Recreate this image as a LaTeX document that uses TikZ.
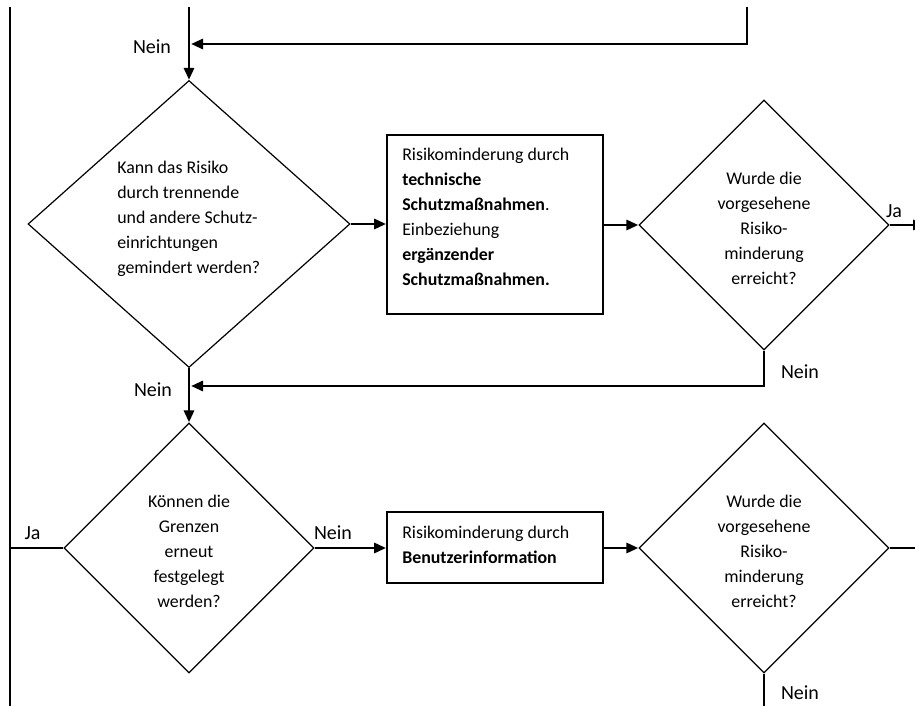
\documentclass[tikz,border=0pt]{standalone}
\usepackage{fontspec}
\setmainfont{Carlito}
\usetikzlibrary{shapes.geometric,arrows.meta}
\begin{document}
\begin{tikzpicture}[x=0.75pt,y=-0.75pt,
  dia/.style={diamond, draw, line width=0.9pt, inner sep=0pt, minimum width=187.5pt, minimum height=187.5pt},
  procbox/.style={rectangle, draw, line width=1.3pt, inner sep=0pt, minimum width=162pt},
  txt/.style={font=\fontsize{13.4}{18.75}\selectfont, inner sep=0pt},
  lbl/.style={font=\fontsize{15}{17}\selectfont, inner sep=0pt},
  conn/.style={line width=2.2pt, -{Triangle[length=9pt,width=7.5pt]}},
  thickline/.style={line width=2pt},
  thinline/.style={line width=1.2pt}]
\useasboundingbox (0,0) rectangle (915,706);

% coordinates
\coordinate (ltop) at (9.5,7);
\coordinate (lbot) at (9.5,710);
\coordinate (topin) at (189,7);
\coordinate (trtop) at (747,7);
\coordinate (j1) at (191,44);
\coordinate (j2) at (191,386);
\coordinate (l1) at (9.5,548);
\coordinate (rout1) at (925,225);
\coordinate (rout2) at (920,548);
\coordinate (bout) at (764,710);

% shapes
\node[dia, minimum width=241.5pt, minimum height=215.25pt] (d1) at (189,224) {};
\node[procbox, minimum height=134.25pt] (b1) at (495,224.5) {};
\node[dia] (d2) at (764,225) {};
\node[dia] (d3) at (189,548) {};
\node[procbox, minimum height=53.25pt] (b2) at (495,547.5) {};
\node[dia] (d4) at (764,548) {};

% texts
\node[txt, align=left, anchor=west] (t1) at (117,219) {Kann das Risiko\\durch trennende\\und andere Schutz-\\einrichtungen\\gemindert werden?};
\node[txt, align=left, anchor=west] (t2) at (402,217) {Risikominderung durch\\\textbf{technische}\\\textbf{Schutzmaßnahmen}.\\Einbeziehung\\\textbf{ergänzender}\\\textbf{Schutzmaßnahmen.}};
\node[txt, align=center] (t3) at (764,228) {Wurde die\\vorgesehene\\Risiko-\\minderung\\erreicht?};
\node[txt, align=center] (t4) at (189,551) {Können die\\Grenzen\\erneut\\festgelegt\\werden?};
\node[txt, align=left, anchor=west] (t5) at (402,545) {Risikominderung durch\\\textbf{Benutzerinformation}};
\node[txt, align=center] (t6) at (764,551) {Wurde die\\vorgesehene\\Risiko-\\minderung\\erreicht?};

% labels
\node[lbl] (n1) at (152,47) {Nein};
\node[lbl] (n2) at (153,390) {Nein};
\node[lbl] (n3) at (800,372) {Nein};
\node[lbl] (ja1) at (894,211) {Ja};
\node[lbl] (ja2) at (32.5,533) {Ja};
\node[lbl] (n4) at (333,533) {Nein};
\node[lbl] (n5) at (800,693) {Nein};

% connectors
\draw[line width=1.5pt] (ltop) -- (lbot);
\draw[conn] (topin) -- (d1.north);
\draw[conn] (trtop) |- (j1);
\draw[conn] (d1.east) -- (d1.east -| b1.west);
\draw[conn] (b1.east |- d2.west) -- (d2.west);
\draw[conn] (d2.east) -- (rout1);
\draw[conn] (d2.south) |- (j2);
\draw[conn] (d1.south) -- (d3.north);
\draw[thinline] (d3.west) -- (l1);
\draw[conn] (d3.east) -- (d3.east -| b2.west);
\draw[conn] (b2.east |- d4.west) -- (d4.west);
\draw[thinline] (d4.east) -- (rout2);
\draw[thickline] (d4.south) -- (bout);
\end{tikzpicture}
\end{document}
